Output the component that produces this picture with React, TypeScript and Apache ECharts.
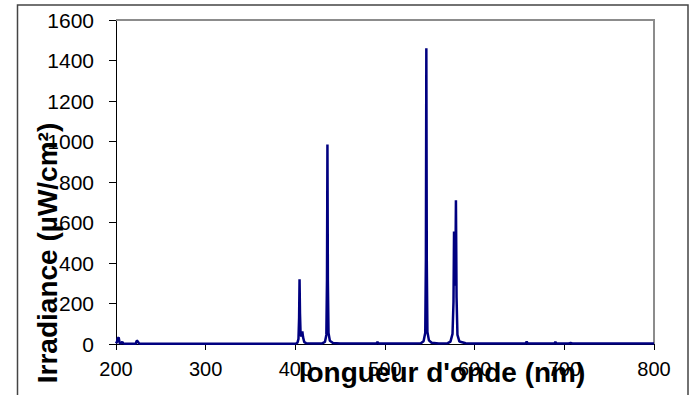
import React, { useEffect, useRef } from "react";
import * as echarts from "echarts";

const wavelengths = [
  200, 201, 202, 203, 204, 205, 206, 207, 208, 210, 222, 223, 224, 226, 300,
  398, 401, 402.5, 403.5, 404.2, 404.7, 405.2, 405.9, 406.8, 407.8, 408.6, 410, 412, 420,
  430, 433, 434.6, 435.3, 435.8, 436.3, 437, 438.5, 442, 450,
  489, 490.5, 491.6, 492.7, 500, 530,
  540, 543, 544.9, 545.6, 546.1, 546.6, 547.3, 549, 552, 560,
  570, 573, 575.3, 576.4, 577.0, 577.7, 578.4, 579.1, 579.8, 580.8, 583, 590, 600,
  650, 657, 658, 659, 680, 689, 690, 691, 705, 707, 709, 750, 800,
];

const irradiance = [
  3, 10, 28, 32, 6, 2, 4, 11, 3, 1, 1, 16, 14, 1, 1,
  1, 3, 8, 25, 130, 320, 150, 42, 40, 62, 34, 9, 4, 2,
  3, 10, 45, 320, 985, 310, 55, 16, 5, 2,
  2, 3, 10, 3, 2, 2,
  4, 14, 55, 420, 1460, 410, 60, 18, 6, 3,
  4, 12, 50, 210, 555, 300, 290, 710, 230, 45, 12, 4, 2,
  2, 3, 12, 3, 2, 2, 11, 2, 2, 6, 2, 2, 2,
];

const xTicks = [200, 300, 400, 500, 600, 700, 800];
const yTicks = [0, 200, 400, 600, 800, 1000, 1200, 1400, 1600];

const yTitle = "Irradiance (µW/cm²)";
const xTitle = "longueur d'onde (nm)";

export default function App() {
  const ref = useRef<HTMLDivElement>(null);

  useEffect(() => {
    document.body.style.margin = "0";
    const chart = echarts.init(ref.current!, null, { renderer: "svg" });
    const font = "Liberation Sans, Arial, sans-serif";
    const gridLeft = 116;
    const gridTop = 20;
    const gridRight = 38;
    const gridBottom = 51;
    const W = 692;
    const H = 395;
    chart.setOption({
      animation: false,
      backgroundColor: "#ffffff",
      grid: {
        left: gridLeft,
        top: gridTop,
        right: gridRight,
        bottom: gridBottom,
        show: false,
      },
      xAxis: {
        type: "value",
        min: xTicks[0],
        max: xTicks[xTicks.length - 1],
        interval: xTicks[1] - xTicks[0],
        axisLine: { show: true, onZero: false, lineStyle: { color: "#000", width: 1 } },
        axisTick: { show: true, inside: false, length: 6, lineStyle: { color: "#000" } },
        axisLabel: {
          color: "#000",
          fontSize: 20,
          fontFamily: font,
          margin: 15,
          formatter: (v: number) => String(v),
        },
        splitLine: { show: false },
      },
      yAxis: {
        type: "value",
        min: yTicks[0],
        max: yTicks[yTicks.length - 1],
        interval: yTicks[1] - yTicks[0],
        axisLine: { show: true, lineStyle: { color: "#000", width: 1 } },
        axisTick: { show: true, inside: false, length: 7, lineStyle: { color: "#000" } },
        axisLabel: {
          color: "#000",
          fontSize: 21,
          fontFamily: font,
          margin: 22,
          formatter: (v: number) => String(v),
        },
        splitLine: { show: false },
      },
      graphic: [
        {
          type: "rect",
          shape: { x: 17.5, y: 5, width: 670.5, height: 420 },
          style: { fill: "none", stroke: "#444", lineWidth: 1.5 },
          silent: true,
          z: 0,
        },
        {
          type: "polyline",
          shape: {
            points: [
              [gridLeft, gridTop],
              [W - gridRight, gridTop],
              [W - gridRight, H - gridBottom],
            ],
          },
          style: { fill: "none", stroke: "#8c8c8c", lineWidth: 2 },
          silent: true,
          z: 1,
        },
        {
          type: "text",
          x: 47,
          y: 253,
          rotation: Math.PI / 2,
          style: {
            text: yTitle,
            font: `bold 28px ${font}`,
            fill: "#000",
            textAlign: "center",
            textVerticalAlign: "middle",
            align: "center",
            verticalAlign: "middle",
          },
          z: 10,
        },
        {
          type: "text",
          x: 442,
          y: 372,
          style: {
            text: xTitle,
            font: `bold 28px ${font}`,
            fill: "#000",
            textAlign: "center",
            textVerticalAlign: "middle",
            align: "center",
            verticalAlign: "middle",
          },
          z: 10,
        },
      ],
      series: [
        {
          type: "line",
          data: wavelengths.map((w, i) => [w, irradiance[i]]),
          showSymbol: false,
          symbol: "none",
          lineStyle: { color: "#000080", width: 2.5 },
          z: 3,
        },
      ],
    });
    return () => chart.dispose();
  }, []);

  return (
    <div
      ref={ref}
      style={{ position: "fixed", left: 0, top: 0, width: 692, height: 395 }}
    />
  );
}
